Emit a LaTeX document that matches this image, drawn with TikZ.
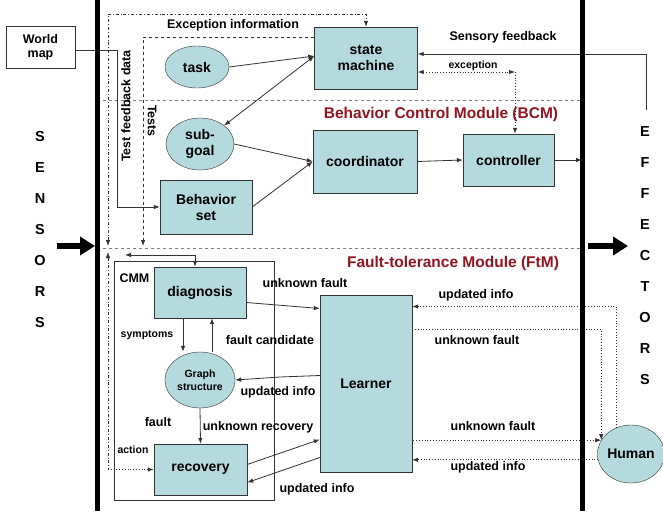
\documentclass[tikz,border=0pt]{standalone}
\usepackage{fontspec}
\setmainfont{Liberation Sans}
\usetikzlibrary{arrows,arrows.meta,shapes.geometric}
\definecolor{boxfill}{RGB}{180,218,222}
\definecolor{modred}{RGB}{150,20,30}

\begin{document}
\begin{tikzpicture}[x=1pt,y=-1pt,>={Latex[length=6pt,width=4.5pt]},
    box/.style={draw=black!80,fill=boxfill,align=center,inner sep=0pt,font=\bfseries\fontsize{14}{16}\selectfont},
    blob/.style={ellipse,draw=black!80,fill=boxfill,align=center,inner sep=0pt,font=\bfseries\fontsize{14}{16}\selectfont},
    lbl/.style={font=\bfseries\fontsize{12.5}{14}\selectfont},
    tiny/.style={font=\bfseries\fontsize{10.5}{12}\selectfont},
    modlbl/.style={font=\bfseries\fontsize{15.5}{17}\selectfont,text=modred},
    letter/.style={font=\bfseries\fontsize{14.5}{15}\selectfont},
    link/.style={draw=black!80,line width=0.8pt},
    sep/.style={draw=black!50,dashed,line width=0.6pt},
  ]
  \useasboundingbox[fill=white] (0,0) rectangle (663,511);

  \draw[sep] (97,100) -- (582,100);
  \draw[sep] (97,248) -- (582,248);
  \node[draw=black!80,minimum width=160pt,minimum height=239pt] (cmm) at (194,380.5) {};
  \node[lbl,anchor=west] (lcmm) at (116,278) {CMM};

  \node[box,fill=white,minimum width=69pt,minimum height=42pt,font=\bfseries\fontsize{12.5}{14}\selectfont] (wmap) at (40.5,47) {World\\map};
  \node[box,minimum width=103pt,minimum height=62pt] (sm) at (366,58) {state\\machine};
  \node[blob,minimum width=64pt,minimum height=42pt] (task) at (197,67) {task};
  \node[blob,minimum width=68pt,minimum height=52pt] (subgoal) at (200,144) {sub-\\goal};
  \node[box,minimum width=92pt,minimum height=54pt] (behav) at (206,207) {Behavior\\set};
  \node[box,minimum width=104pt,minimum height=63pt] (coord) at (365,161.5) {coordinator};
  \node[box,minimum width=91pt,minimum height=52pt] (ctrl) at (508.5,160) {controller};
  \node[box,minimum width=92pt,minimum height=51pt] (diag) at (200,292.5) {diagnosis};
  \node[blob,minimum width=70pt,minimum height=56pt,font=\bfseries\fontsize{10.5}{13}\selectfont] (graph) at (200,380) {Graph\\structure};
  \node[box,minimum width=93pt,minimum height=51pt] (recov) at (200.5,469.5) {recovery};
  \node[box,minimum width=92pt,minimum height=177pt] (learner) at (366,383.5) {Learner};
  \node[blob,minimum width=62pt,minimum height=58pt] (human) at (631,454) {Human};

  \node[modlbl] (lbcm) at (441,114) {Behavior Control Module (BCM)};
  \node[modlbl] (lftm) at (453,263) {Fault-tolerance Module (FtM)};

  \foreach \l [count=\i] in {S,E,N,S,O,R,S}
    \node[letter] (sens\i) at (40,{137+31*(\i-1)}) {\l};
  \foreach \l [count=\i] in {E,F,F,E,C,T,O,R,S}
    \node[letter] (eff\i) at (645,{132+31*(\i-1)}) {\l};

  \node[lbl] (lexc) at (233,25) {Exception information};
  \node[lbl,rotate=90] (ltfd) at (126,106) {Test feedback data};
  \node[lbl,rotate=-90] (ltst) at (152,121) {Tests};
  \node[lbl] (lsfb) at (503,37) {Sensory feedback};
  \node[tiny] (lexp) at (473,66) {exception};
  \node[lbl] (lunk1) at (305,283) {unknown fault};
  \node[tiny] (lsym) at (147,335) {symptoms};
  \node[lbl] (lcand) at (270,340) {fault candidate};
  \node[lbl] (lupd1) at (278,392) {updated info};
  \node[lbl] (lfault) at (158,422) {fault};
  \node[lbl] (lurec) at (258,427) {unknown recovery};
  \node[tiny] (lact) at (133,450) {action};
  \node[lbl] (lupd2) at (317,489) {updated info};
  \node[lbl] (lupd3) at (476,295) {updated info};
  \node[lbl] (lunk2) at (477,340) {unknown fault};
  \node[lbl] (lunk3) at (493,426) {unknown fault};
  \node[lbl] (lupd4) at (488,467) {updated info};

  \coordinate (wcorner) at (117,50);
  \coordinate (excorner) at (515,72);
  \coordinate (sfb) at (646,110);
  \coordinate (tfdtop) at (108,14);
  \coordinate (tfdbot) at (108,246);
  \coordinate (tstbot) at (143,246);
  \coordinate (ftmtop) at (108,252);
  \coordinate (diagin) at (125,255);
  \coordinate (updkink) at (280,377);

  \draw[link,->] (wmap.east |- wcorner) -- (wcorner) |- (behav.west);
  \draw[link,->] (task.east) -- ([yshift=2pt]sm.west);
  \draw[link,<->] (subgoal.north east) -- ([yshift=2pt]sm.west);
  \draw[link,->] (subgoal.east) -- (coord.west);
  \draw[link,->] (behav.east) -- (coord.west);
  \draw[link,->] (coord.east) -- (ctrl.west);
  \draw[link,->] (ctrl.east) -- (582,160);
  \draw[link,->] (sfb) |- ([yshift=4pt]sm.east);
  \draw[link,dotted,<->] ([yshift=-14pt]sm.east) -- (excorner);
  \draw[link,dotted,->] (excorner) -- (excorner |- ctrl.north);
  \draw[link,dashdotted,<->] (tfdbot) |- (tfdtop -| sm.north) -- (sm.north);
  \draw[link,dashed,->] ([yshift=21pt]sm.west) -| (tstbot);

  \draw[link,<->] (diagin) -| ([xshift=-5pt]diag.north);
  \draw[link,dashdotted,<-] (ftmtop) -- (ftmtop |- recov.west);
  \draw[link,dotted,->] (ftmtop |- recov.west) -- (recov.west);
  \draw[link,->] ([yshift=-10pt]diag.east) -- ([yshift=75pt]learner.west);
  \draw[link,->] ([xshift=-17pt]diag.south) -- ([xshift=-17pt]diag.south |- graph.north);
  \draw[link,->] ([xshift=12pt]diag.south |- graph.north) -- ([xshift=12pt]diag.south);
  \draw[link,->] ([yshift=8pt]learner.west) -- (updkink) -- (graph.east);
  \draw[link,->] (graph.south) -- (recov.north);
  \draw[link,->] ([yshift=5pt]recov.east) -- ([yshift=-56pt]learner.west);
  \draw[link,->] ([yshift=-74pt]learner.west) -- ([yshift=-13pt]recov.east);

  \draw[link,dotted,->] (human.120) |- ([yshift=77pt]learner.east);
  \draw[link,dotted,->] ([yshift=54pt]learner.east) -| (human.155);
  \draw[link,dotted,->] ([yshift=-55pt]learner.east) -- (learner.east |- human.155) -- (human.155);
  \draw[link,dotted,->] (human.190) -- (learner.east |- human.190);

  \draw[line width=5pt] (97,0) -- (97,511);
  \draw[line width=5pt] (582.5,0) -- (582.5,511);
  \coordinate (sin) at (57,246);
  \coordinate (sout) at (588,246);
  \draw[line width=6pt,-{Triangle[length=15pt,width=18pt]}] (sin) -- (95,246);
  \draw[line width=6pt,-{Triangle[length=15pt,width=18pt]}] (sout) -- (628,246);
\end{tikzpicture}
\end{document}
